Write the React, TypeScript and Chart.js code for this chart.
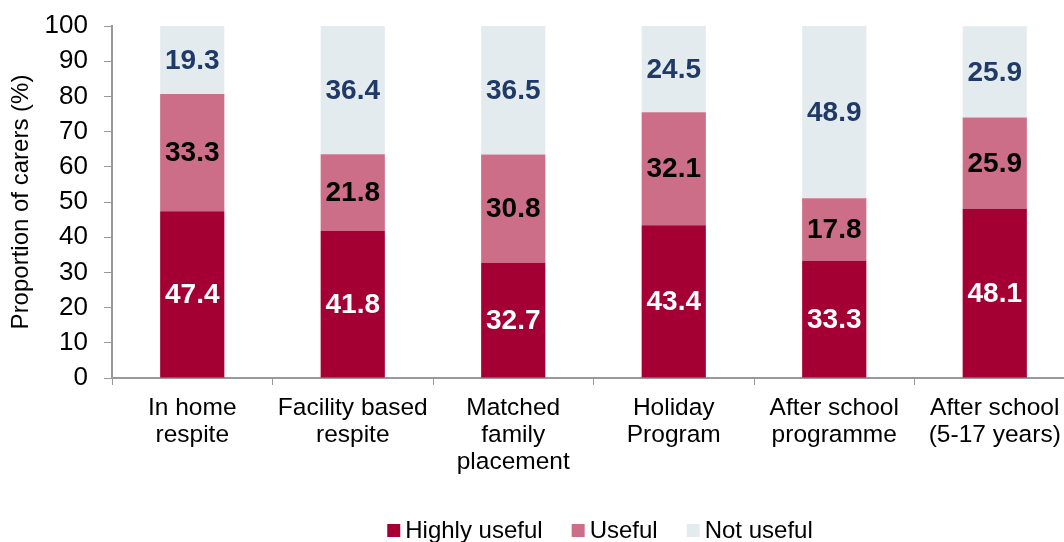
import React, { useEffect, useRef } from "react";
import { Chart, registerables } from "chart.js";

Chart.register(...registerables);

const categories: string[][] = [
  ["In home", "respite"],
  ["Facility based", "respite"],
  ["Matched", "family", "placement"],
  ["Holiday", "Program"],
  ["After school", "programme"],
  ["After school", "(5-17 years)"],
];
const highlyUseful = [47.4, 41.8, 32.7, 43.4, 33.3, 48.1];
const useful = [33.3, 21.8, 30.8, 32.1, 17.8, 25.9];
const notUseful = [19.3, 36.4, 36.5, 24.5, 48.9, 25.9];
const seriesNames = ["Highly useful", "Useful", "Not useful"];
const yTicks = [0, 10, 20, 30, 40, 50, 60, 70, 80, 90, 100];

const FONT = "'Liberation Sans', Arial, sans-serif";
const barColors = ["#A50034", "#CC6E88", "#E4EBEF"];
const labelColors = ["#FFFFFF", "#000000", "#1F3A66"];

const dataLabelPlugin = {
  id: "dataLabels",
  afterDatasetsDraw(chart: any) {
    const ctx = chart.ctx;
    ctx.save();
    ctx.font = `bold 28px ${FONT}`;
    ctx.textAlign = "center";
    ctx.textBaseline = "middle";
    chart.data.datasets.forEach((ds: any, di: number) => {
      const meta = chart.getDatasetMeta(di);
      meta.data.forEach((bar: any, i: number) => {
        const v = ds.data[i];
        const { x, y, base } = bar.getProps(["x", "y", "base"], true);
        ctx.fillStyle = labelColors[di];
        ctx.fillText(v.toFixed(1), x, (y + base) / 2 + 1);
      });
    });
    ctx.restore();
  },
};

const legendPlugin = {
  id: "customLegend",
  afterDraw(chart: any) {
    const ctx = chart.ctx;
    ctx.save();
    ctx.font = `24px ${FONT}`;
    ctx.textBaseline = "middle";
    const box = 13;
    const gap = 5;
    const spacing = 29;
    const widths = chart.data.datasets.map(
      (ds: any) => box + gap + ctx.measureText(ds.label).width
    );
    const total =
      widths.reduce((a: number, b: number) => a + b, 0) +
      spacing * (widths.length - 1);
    let x = 600 - total / 2;
    const yc = 530;
    chart.data.datasets.forEach((ds: any, di: number) => {
      ctx.fillStyle = barColors[di];
      ctx.fillRect(x, yc - 6, box, box);
      ctx.fillStyle = "#000";
      ctx.fillText(ds.label, x + box + gap, yc + 1);
      x += widths[di] + spacing;
    });
    ctx.restore();
  },
};

export default function App() {
  const ref = useRef<HTMLCanvasElement | null>(null);
  useEffect(() => {
    document.body.style.margin = "0";
    const chart = new Chart(ref.current as HTMLCanvasElement, {
      type: "bar",
      data: {
        labels: categories,
        datasets: [highlyUseful, useful, notUseful].map((d, i) => ({
          label: seriesNames[i],
          data: d,
          backgroundColor: barColors[i],
          borderWidth: 0,
          barPercentage: 0.4,
          categoryPercentage: 1,
        })),
      },
      options: {
        animation: false,
        responsive: false,
        maintainAspectRatio: false,
        layout: { padding: { top: 26, right: 0, bottom: 0, left: 0 } },
        plugins: {
          legend: { display: false },
          tooltip: { enabled: false },
        },
        scales: {
          x: {
            stacked: true,
            afterFit: (axis: any) => {
              axis.height = 164;
              axis.paddingLeft = 0;
              axis.paddingRight = 0;
            },
            grid: {
              display: true,
              drawOnChartArea: false,
              drawTicks: true,
              tickLength: 7,
              color: "#999",
              offset: true,
            },
            border: { color: "#999", width: 2 },
            ticks: {
              color: "#000",
              font: { family: FONT, size: 24.5, lineHeight: 1.1 },
              maxRotation: 0,
              autoSkip: false,
              padding: 10,
            },
          },
          y: {
            stacked: true,
            min: 0,
            max: 100,
            afterFit: (axis: any) => {
              axis.width = 112;
              axis.paddingTop = 0;
              axis.paddingBottom = 0;
            },
            afterBuildTicks: (axis: any) => {
              axis.ticks = yTicks.map((v) => ({ value: v }));
            },
            grid: {
              display: true,
              drawOnChartArea: false,
              drawTicks: true,
              tickLength: 8,
              color: "#999",
            },
            border: { color: "#999", width: 2 },
            ticks: {
              color: "#000",
              font: { family: FONT, size: 26 },
              padding: 16,
            },
            title: {
              display: true,
              text: "Proportion of carers (%)",
              color: "#000",
              font: { family: FONT, size: 24 },
              padding: { top: 7, bottom: 0 },
            },
          },
        },
      },
      plugins: [dataLabelPlugin, legendPlugin],
    });
    return () => chart.destroy();
  }, []);
  return (
    <div
      style={{
        position: "absolute",
        left: 0,
        top: 0,
        width: 1064,
        height: 542,
        overflow: "hidden",
      }}
    >
      <canvas ref={ref} width={1075} height={542} style={{ width: 1075, height: 542 }} />
    </div>
  );
}
